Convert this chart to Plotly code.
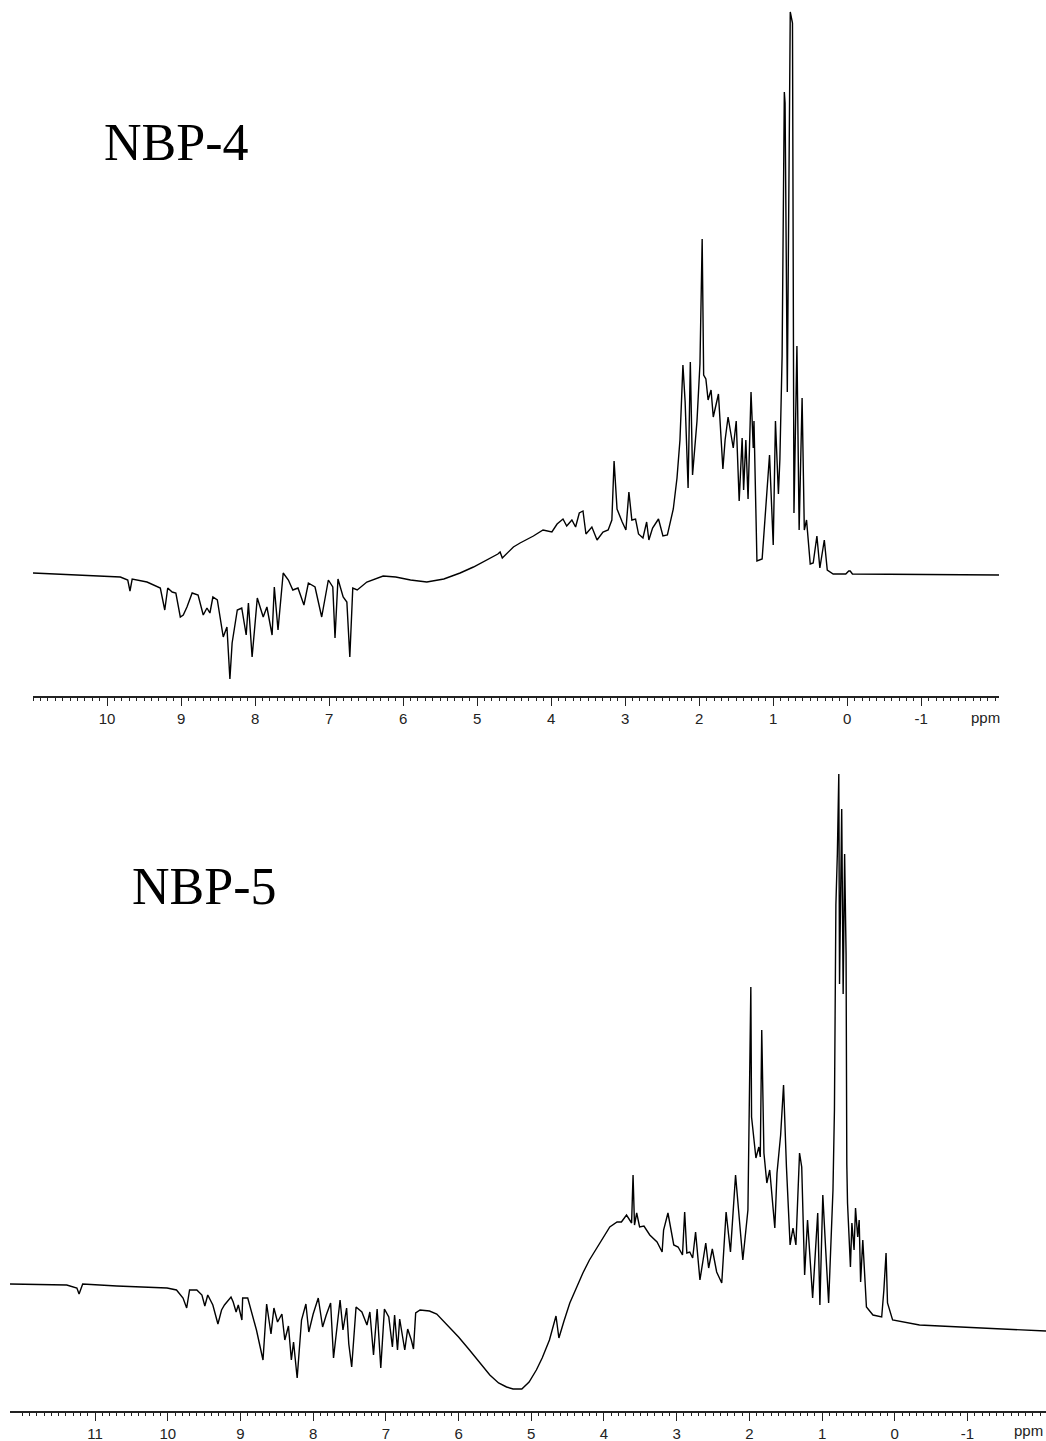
import plotly.graph_objects as go

# ---------------- NBP-4 spectrum (chemical shift ppm, intensity a.u.) ----------------
ppm_nbp4 = [11.0, 10.5, 10.0, 9.82, 9.72, 9.69, 9.66, 9.46, 9.28, 9.22, 9.18, 9.12, 9.07, 9.01, 8.97,
            8.92, 8.85, 8.77, 8.70, 8.65, 8.61, 8.57, 8.51, 8.47, 8.43, 8.38, 8.34, 8.31, 8.24, 8.18,
            8.12, 8.09, 8.04, 7.97, 7.89, 7.84, 7.77, 7.74, 7.69, 7.62, 7.55, 7.49, 7.42, 7.34, 7.28,
            7.19, 7.10, 7.01, 6.95, 6.92, 6.88, 6.81, 6.76, 6.72, 6.68, 6.62, 6.49, 6.27, 6.1, 5.9,
            5.68, 5.45, 5.23, 5.05, 4.92, 4.8, 4.72, 4.69, 4.66, 4.51, 4.42, 4.24, 4.11, 3.99, 3.92,
            3.84, 3.79, 3.72, 3.67, 3.62, 3.57, 3.53, 3.45, 3.38, 3.30, 3.23, 3.18, 3.15, 3.11, 3.04,
            2.99, 2.95, 2.91, 2.86, 2.82, 2.76, 2.71, 2.68, 2.63, 2.55, 2.49, 2.43, 2.35, 2.30, 2.26,
            2.22, 2.19, 2.15, 2.12, 2.09, 2.03, 1.99, 1.96, 1.94, 1.91, 1.88, 1.84, 1.81, 1.74, 1.68,
            1.65, 1.61, 1.54, 1.50, 1.46, 1.42, 1.40, 1.37, 1.34, 1.30, 1.27, 1.26, 1.22, 1.15, 1.09,
            1.05, 1.00, 0.97, 0.93, 0.91, 0.88, 0.85, 0.84, 0.81, 0.77, 0.74, 0.72, 0.68, 0.65, 0.61,
            0.58, 0.55, 0.50, 0.46, 0.41, 0.37, 0.31, 0.27, 0.19, 0.02, -0.02, -0.04, -0.07, -1.0, -2.05]
int_nbp4 = [1, -0.5, -2, -3, -6, -17, -5, -8, -14, -36, -14, -18, -19, -43, -41,
            -33, -19, -21, -41, -34, -39, -23, -26, -44, -63, -53, -105, -69, -36, -34,
            -61, -29, -83, -24, -43, -33, -61, -13, -56, 1, -6, -16, -14, -31, -9,
            -13, -43, -6, -13, -64, -5, -23, -28, -83, -14, -16, -8, -2, -3, -6,
            -8, -5, 1, 7, 12, 17, 20, 22, 16, 27, 31, 38, 44, 42, 50,
            55, 48, 54, 47, 61, 63, 40, 47, 34, 42, 44, 54, 113, 65, 52,
            44, 82, 54, 55, 40, 36, 52, 34, 46, 55, 38, 39, 65, 96, 134,
            209, 172, 86, 212, 99, 153, 210, 335, 199, 195, 174, 184, 157, 180, 105,
            134, 157, 126, 153, 73, 136, 84, 134, 75, 182, 126, 153, 13, 15, 76,
            119, 29, 153, 80, 115, 218, 482, 471, 182, 562, 551, 61, 228, 44, 176,
            44, 54, 10, 11, 38, 6, 34, 4, 0, 0, 3, 3, 0, -0.5, -1]

# ---------------- NBP-5 spectrum ----------------
ppm_nbp5 = [12.17, 11.8, 11.39, 11.25, 11.22, 11.17, 10.70, 10.01, 9.88, 9.79, 9.74, 9.70, 9.60, 9.53,
            9.49, 9.45, 9.38, 9.31, 9.26, 9.22, 9.17, 9.13, 9.10, 9.06, 9.03, 8.98, 8.97, 8.90, 8.78,
            8.69, 8.64, 8.58, 8.54, 8.49, 8.43, 8.39, 8.34, 8.30, 8.27, 8.22, 8.16, 8.10, 8.06, 8.00,
            7.93, 7.87, 7.82, 7.76, 7.72, 7.68, 7.63, 7.59, 7.54, 7.51, 7.47, 7.41, 7.33, 7.26, 7.22,
            7.17, 7.12, 7.07, 7.02, 6.96, 6.91, 6.88, 6.84, 6.81, 6.74, 6.70, 6.65, 6.62, 6.59, 6.53,
            6.40, 6.30, 6.22, 6.12, 6.00, 5.85, 5.70, 5.57, 5.45, 5.34, 5.25, 5.13, 5.03, 4.93, 4.85,
            4.75, 4.66, 4.62, 4.55, 4.47, 4.38, 4.29, 4.20, 4.10, 4.02, 3.92, 3.82, 3.76, 3.69, 3.62,
            3.60, 3.58, 3.55, 3.51, 3.45, 3.37, 3.27, 3.20, 3.18, 3.12, 3.04, 2.98, 2.92, 2.89, 2.86,
            2.82, 2.78, 2.74, 2.68, 2.60, 2.56, 2.51, 2.45, 2.38, 2.32, 2.26, 2.19, 2.09, 2.02, 1.98,
            1.97, 1.91, 1.87, 1.85, 1.83, 1.80, 1.76, 1.72, 1.65, 1.62, 1.57, 1.53, 1.49, 1.44, 1.40,
            1.36, 1.31, 1.28, 1.24, 1.20, 1.13, 1.06, 1.03, 0.99, 0.95, 0.91, 0.85, 0.83, 0.81, 0.79,
            0.77, 0.76, 0.73, 0.71, 0.69, 0.67, 0.66, 0.65, 0.61, 0.59, 0.56, 0.54, 0.51, 0.49, 0.47,
            0.44, 0.39, 0.30, 0.18, 0.15, 0.12, 0.10, 0.03, -0.34, -0.62, -1.3, -2.08]
int_nbp5 = [0, -0.5, -1, -4, -10, 0, -2, -4, -6, -14, -24, -6, -6, -11,
            -22, -11, -21, -40, -26, -21, -16, -13, -18, -28, -21, -36, -14, -14, -46,
            -76, -20, -50, -24, -38, -30, -56, -42, -76, -58, -94, -36, -20, -48, -30,
            -14, -43, -31, -19, -74, -46, -16, -46, -24, -60, -83, -23, -28, -41, -28,
            -71, -25, -84, -25, -33, -63, -31, -66, -35, -66, -45, -56, -65, -29, -26,
            -27, -30, -36, -43, -53, -66, -80, -91, -99, -103, -105, -105, -98, -86, -74,
            -56, -32, -54, -37, -19, -4, 11, 24, 36, 46, 57, 62, 62, 69, 61,
            109, 59, 71, 57, 58, 49, 42, 32, 54, 71, 39, 37, 29, 72, 31,
            32, 26, 52, 4, 41, 16, 35, 12, 1, 72, 32, 109, 24, 74, 297,
            167, 126, 137, 127, 254, 131, 101, 114, 56, 111, 149, 199, 117, 39, 56,
            39, 131, 117, 9, 64, -14, 71, -21, 89, 34, -19, 94, 174, 379, 430,
            510, 300, 475, 290, 430, 330, 120, 81, 17, 61, 34, 76, 47, 64, 2,
            44, -23, -31, -33, -6, 31, -19, -36, -41, -42, -44, -47]

labels = ["NBP-4", "NBP-5"]
tick_vals_top = [11, 10, 9, 8, 7, 6, 5, 4, 3, 2, 1, 0, -1, -2]
tick_text_top = ["", "10", "9", "8", "7", "6", "5", "4", "3", "2", "1", "0", "-1", ""]
tick_vals_bot = [12, 11, 10, 9, 8, 7, 6, 5, 4, 3, 2, 1, 0, -1, -2]
tick_text_bot = ["", "11", "10", "9", "8", "7", "6", "5", "4", "3", "2", "1", "0", "-1", ""]

W, H = 1046, 1441
TICKFONT = dict(family="Arial, Liberation Sans, sans-serif", size=15, color="#222")

fig = go.Figure()
fig.add_trace(go.Scatter(x=ppm_nbp4, y=int_nbp4, mode="lines", xaxis="x", yaxis="y",
                         line=dict(color="black", width=1.4), showlegend=False, hoverinfo="skip"))
fig.add_trace(go.Scatter(x=ppm_nbp5, y=int_nbp5, mode="lines", xaxis="x2", yaxis="y2",
                         line=dict(color="black", width=1.4), showlegend=False, hoverinfo="skip"))

top_minor = [round(11 - 0.1 * i, 1) for i in range(131)]
bot_minor = [round(12 - 0.1 * i, 1) for i in range(141)]

fig.update_layout(
    width=W, height=H, autosize=False,
    margin=dict(l=0, r=0, t=0, b=0),
    paper_bgcolor="white", plot_bgcolor="white",
    xaxis=dict(domain=[33 / W, 999 / W], range=[11, -2.05], anchor="y",
               showline=True, linecolor="#222", linewidth=1.5, showgrid=False, zeroline=False,
               tickmode="array", tickvals=tick_vals_top, ticktext=tick_text_top,
               ticks="outside", ticklen=8, tickwidth=1.2, tickcolor="#222", tickfont=TICKFONT,
               minor=dict(tickmode="array", tickvals=top_minor, ticks="outside", ticklen=3,
                          tickwidth=1, tickcolor="#222", showgrid=False)),
    yaxis=dict(domain=[1 - 696 / H, 1.0], range=[-122, 574], anchor="x", visible=False,
               showgrid=False, zeroline=False),
    xaxis2=dict(domain=[10 / W, 1.0], range=[12.17, -2.08], anchor="y2",
                showline=True, linecolor="#222", linewidth=1.5, showgrid=False, zeroline=False,
                tickmode="array", tickvals=tick_vals_bot, ticktext=tick_text_bot,
                ticks="outside", ticklen=8, tickwidth=1.2, tickcolor="#222", tickfont=TICKFONT,
                minor=dict(tickmode="array", tickvals=bot_minor, ticks="outside", ticklen=3,
                           tickwidth=1, tickcolor="#222", showgrid=False)),
    yaxis2=dict(domain=[1 - 1411 / H, 1 - 760 / H], range=[-127, 524], anchor="x2", visible=False,
                showgrid=False, zeroline=False),
    annotations=[
        dict(text=labels[0], xref="paper", yref="paper", x=102 / W, y=1 - 142 / H,
             xanchor="left", yanchor="middle", showarrow=False,
             font=dict(family="Times New Roman, Liberation Serif, serif", size=52, color="black")),
        dict(text=labels[1], xref="paper", yref="paper", x=130 / W, y=1 - 886 / H,
             xanchor="left", yanchor="middle", showarrow=False,
             font=dict(family="Times New Roman, Liberation Serif, serif", size=52, color="black")),
        dict(text="ppm", xref="paper", yref="paper", x=985 / W, y=1 - 717 / H,
             xanchor="center", yanchor="middle", showarrow=False, font=TICKFONT),
        dict(text="ppm", xref="paper", yref="paper", x=1028 / W, y=1 - 1430 / H,
             xanchor="center", yanchor="middle", showarrow=False, font=TICKFONT),
    ],
)

fig.write_html("out.html")
